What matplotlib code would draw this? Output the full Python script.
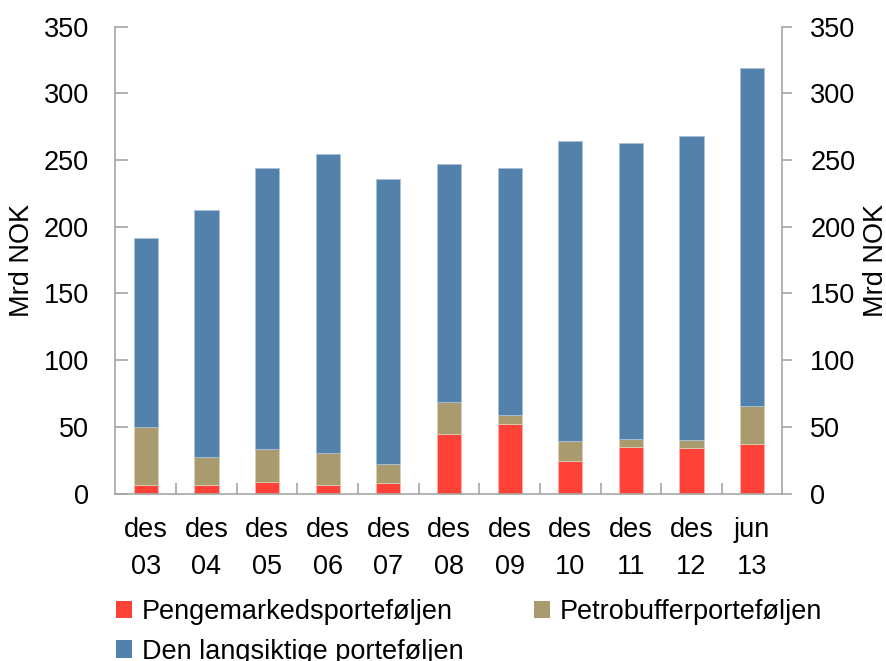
import matplotlib
matplotlib.use("Agg")
import matplotlib.pyplot as plt
import numpy as np
from matplotlib.patches import Patch

categories = ["des\n03", "des\n04", "des\n05", "des\n06", "des\n07", "des\n08",
              "des\n09", "des\n10", "des\n11", "des\n12", "jun\n13"]
penge = [6.0, 6.0, 8.6, 6.3, 7.8, 44.7, 52.2, 24.1, 34.9, 34.2, 37.2]
petro = [44.0, 21.6, 24.5, 24.1, 14.0, 23.8, 6.8, 15.6, 6.1, 6.2, 28.3]
lang = [141.9, 185.1, 211.1, 224.1, 214.0, 178.5, 185.4, 224.8, 221.5, 227.6, 253.3]
series_names = ["Pengemarkedsporteføljen", "Petrobufferporteføljen", "Den langsiktige porteføljen"]
yticks = [0, 50, 100, 150, 200, 250, 300, 350]

colors = ["#FF4238", "#A99B6E", "#5281AC"]
edge = ["#FFB0AA", "#D8CFB5", "#A9C0D6"]

plt.rcParams['font.family'] = ['Liberation Sans', 'DejaVu Sans']
FS = 19.5

fig = plt.figure(figsize=(8.87, 6.61), dpi=100)
ax = fig.add_axes([115.5/887, 1-493.5/661, (782.5-115.5)/887, (493.5-26.7)/661])

x = np.arange(len(categories))
w = 0.4
ax.bar(x, penge, w, color=colors[0], edgecolor=edge[0], linewidth=0.6)
ax.bar(x, petro, w, bottom=penge, color=colors[1], edgecolor=edge[1], linewidth=0.6)
bot2 = np.array(penge) + np.array(petro)
ax.bar(x, lang, w, bottom=bot2, color=colors[2], edgecolor=edge[2], linewidth=0.6)

ax.set_xlim(-0.5, len(categories) - 0.5)
ax.set_ylim(0, 350)
ax.set_yticks(yticks)
ax.set_xticks(x)
ax.set_xticklabels(categories, fontsize=FS, linespacing=1.55)
ax.set_xticks(np.arange(0.5, len(categories) - 1, 1.0), minor=True)

spine_c = "#A6A6A6"
for s in ["left", "right", "bottom"]:
    ax.spines[s].set_color(spine_c)
    ax.spines[s].set_linewidth(1.2)
ax.spines["top"].set_visible(False)

ax.tick_params(axis='x', which='major', length=0, pad=17, labelsize=FS)
ax.tick_params(axis='x', which='minor', direction='in', length=8, color=spine_c, width=1.2)
ax.tick_params(axis='y', direction='in', length=9, color=spine_c, width=1.2, pad=19, labelsize=FS)

ax2 = ax.twinx()
ax2.set_ylim(0, 350)
ax2.set_yticks(yticks)
for s in ["left", "right", "bottom", "top"]:
    ax2.spines[s].set_visible(False)
ax2.tick_params(axis='y', direction='out', length=7, color=spine_c, width=1.2, pad=13, labelsize=FS)

ax.set_ylabel("Mrd NOK", fontsize=FS)
ax.yaxis.set_label_coords(-(115.5-35)/667, 0.5)
ax2.set_ylabel("Mrd NOK", fontsize=FS)
ax2.yaxis.set_label_coords(1 + (863-782.5)/667, 0.5)

order = [0, 2, 1]
handles = [Patch(facecolor=colors[i], edgecolor='none') for i in order]
labels = [series_names[i] for i in order]
fig.legend(handles, labels, loc='upper left', bbox_to_anchor=(116/887, 1-599/661),
           ncol=2, frameon=False, fontsize=FS, handlelength=0.6, handleheight=0.6,
           handletextpad=0.35, columnspacing=2.6, labelspacing=0.5, borderaxespad=0, borderpad=0)

fig.savefig("out.png", dpi=100)
